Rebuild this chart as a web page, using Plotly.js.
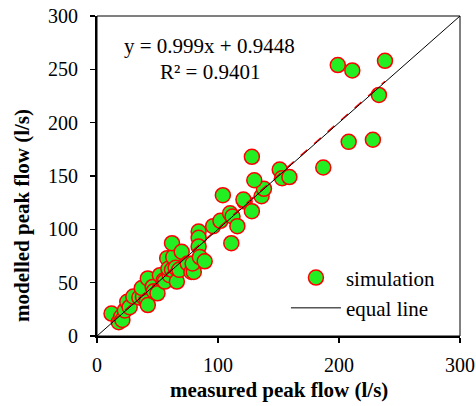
<!DOCTYPE html>
<html><head><meta charset="utf-8">
<script src="https://cdn.plot.ly/plotly-3.0.1.min.js"></script>
<style>html,body{margin:0;padding:0;background:#fff}#c{width:476px;height:406px}</style>
</head><body><div id="c"></div>
<script>
const measured = [12,18,20,21,23,25,27,30,35,38,37,41,42,42,46,47,50,52,55,56,58,60,59,62,63,62,65,66,68,70,75,78,80,79,84,84,84,85,89,96,102,104,110,111,112,116,122,121,128,136,138,130,128,151,153,159,187,208,228,233,199,211,238];
const modelled = [21,13,18,15,24,32,27,37,36,37,45,32,29,54,46,42,40,57,52,51,73,57,63,62,74,87,64,51,62,79,68,60,60,68,98,92,84,74,70,103,108,132,115,87,112,103,126,128,117,131,138,146,168,156,148,149,158,182,184,226,254,249,258];
const slope = 0.999, intercept = 0.9448;
const equalLine = [0, 300];
const xTicks = [0,100,200,300];
const yTicks = [0,50,100,150,200,250,300];

const xmin = Math.min(...measured), xmax = Math.max(...measured);
const fam = 'Liberation Serif';
const font = {family:fam, size:21, color:'#000'};
const tickfont = {family:fam, size:20, color:'#000'};

const traces = [
  {x: measured, y: modelled, type:'scatter', mode:'markers', name:'simulation', legendgroup:'a',
   marker:{color:'#22ee22', size:15, line:{color:'#ff0000', width:1.5}}},
  {x:[xmin,xmax], y:[slope*xmin+intercept, slope*xmax+intercept], type:'scatter', mode:'lines',
   line:{color:'#ff0000', width:1.5, dash:'dash'}, showlegend:false, hoverinfo:'skip'},
  {x: equalLine, y: equalLine, type:'scatter', mode:'lines', name:'equal line', legendgroup:'b',
   line:{color:'#000', width:1}}
];

const layout = {
  width:476, height:406,
  margin:{l:97, r:16, t:16, b:70},
  paper_bgcolor:'#fff', plot_bgcolor:'#fff',
  font: font,
  showlegend:true,
  legend:{x:0.5205, y:0.2456, xanchor:'left', yanchor:'top', bgcolor:'rgba(0,0,0,0)',
          font:font, itemwidth:50, traceorder:'grouped', tracegroupgap:0},
  xaxis:{range:[0,300], tickvals:xTicks, ticks:'outside', ticklen:5, tickwidth:1.5, tickcolor:'#000',
         showline:true, linecolor:'#000', linewidth:2, showgrid:false, zeroline:false,
         tickfont:tickfont, ticklabelstandoff:5},
  yaxis:{range:[0,300], tickvals:yTicks, ticks:'outside', ticklen:5, tickwidth:1.5, tickcolor:'#000',
         showline:true, linecolor:'#000', linewidth:2, showgrid:false, zeroline:false,
         tickfont:tickfont, ticklabelstandoff:8},
  shapes:[{type:'rect', xref:'paper', yref:'paper', x0:0, x1:1, y0:0, y1:1, line:{color:'#000', width:1}, layer:'above'}],
  annotations:[
    {xref:'paper', yref:'paper', x:0.31, y:0.905, xanchor:'center', yanchor:'middle', text:'y = 0.999x + 0.9448', showarrow:false, font:font},
    {xref:'paper', yref:'paper', x:0.31, y:0.825, xanchor:'center', yanchor:'middle', text:'R² = 0.9401', showarrow:false, font:font},
    {xref:'paper', yref:'paper', x:0.5, y:-0.17, xanchor:'center', yanchor:'middle', text:'<b>measured peak flow (l/s)</b>', showarrow:false, font:font},
    {xref:'paper', yref:'paper', x:-0.207, y:0.378, xanchor:'center', yanchor:'middle', textangle:-90, text:'<b>modelled peak flow (l/s)</b>', showarrow:false, font:font}
  ]
};
Plotly.newPlot('c', traces, layout, {displayModeBar:false, staticPlot:true});
</script></body></html>
